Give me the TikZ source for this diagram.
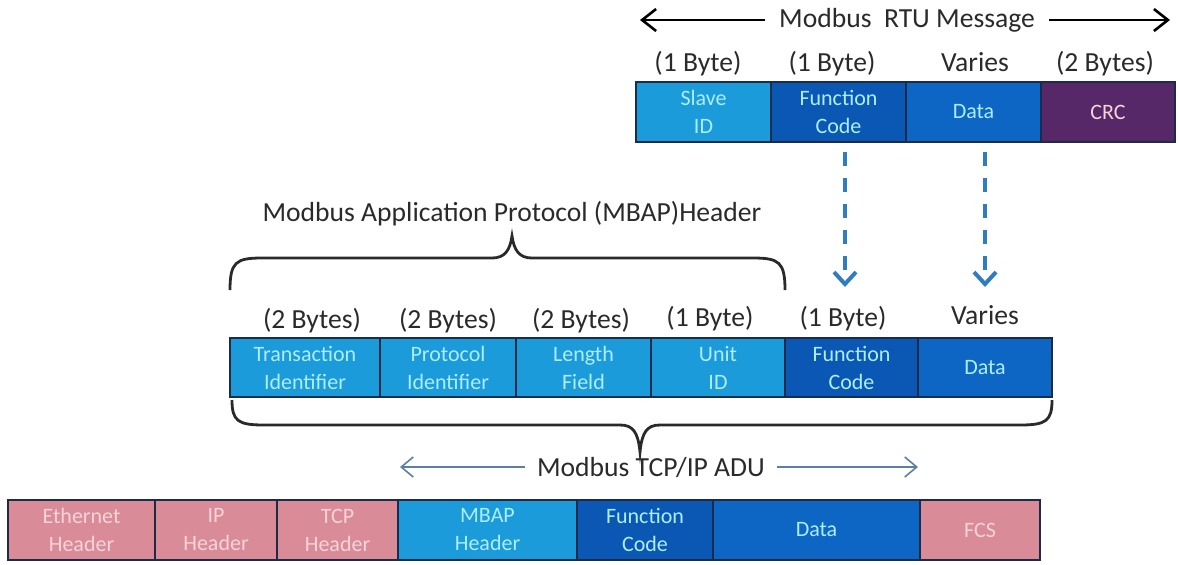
\documentclass[tikz,border=0pt]{standalone}
\usepackage{fontspec}
\setmainfont{Carlito}
\usetikzlibrary{arrows.meta}
\definecolor{lblue}{HTML}{1B9BDA}
\definecolor{mblue}{HTML}{0A58B4}
\definecolor{dblue}{HTML}{0E66C4}
\definecolor{purp}{HTML}{562868}
\definecolor{pinkc}{HTML}{D98C98}
\definecolor{pinktxt}{HTML}{F6D3D9}
\definecolor{cyantxt}{HTML}{ADEEFC}
\definecolor{bord}{HTML}{1C2B4A}
\definecolor{labc}{HTML}{2A2A2A}
\definecolor{dashc}{HTML}{2F7CC0}
\definecolor{adu}{HTML}{5C7FA8}
\newcommand\cell[7]{\node[cellbox,#6,minimum width=#3*0.5pt-#2*0.5pt,minimum height=#5*0.5pt-#4*0.5pt] (#1) at ({(#2+#3)/2},{(#4+#5)/2}) {#7};}
\begin{document}
\begin{tikzpicture}[x=0.5pt,y=-0.5pt,
  cellbox/.style={draw=bord,line width=1pt,inner sep=0pt,outer sep=0pt,align=center,
    font=\fontsize{11}{14}\selectfont},
  lb/.style={fill=lblue,text=cyantxt},
  mb/.style={fill=mblue,text=cyantxt},
  db/.style={fill=dblue,text=cyantxt},
  pu/.style={fill=purp,text=pinktxt},
  pk/.style={fill=pinkc,text=pinktxt},
  lab/.style={text=labc,font=\fontsize{13.8}{16}\selectfont,inner sep=0pt},
  bigarrow/.style={line width=1.3pt,-{Straight Barb[length=7pt,width=11pt]}},
  dasharrow/.style={dashc,line width=2pt,dash pattern=on 7pt off 6pt,-{Straight Barb[length=6pt,width=11pt]}},
  aduarrow/.style={adu,line width=0.8pt,-{Straight Barb[length=6pt,width=10pt]}},
  bracec/.style={line width=1.4pt,labc}]
\useasboundingbox (0,0) rectangle (1178,564);
% top row
\node[lab] (rtu) at (907,20) {Modbus\ \ RTU Message};
\coordinate (rtuL) at (640,20);
\coordinate (rtuR) at (1170,20);
\draw[bigarrow] (rtu.west) ++(-14,0) -- (rtuL);
\draw[bigarrow] (rtu.east) ++(14,0) -- (rtuR);
\node[lab] (t1) at (698,64) {(1 Byte)};
\node[lab] (t2) at (832,64) {(1 Byte)};
\node[lab] (t3) at (975,62) {Varies};
\node[lab] (t4) at (1105,64) {(2 Bytes)};
\cell{slave}{636}{771}{82}{142}{lb}{Slave\\ID}
\cell{fc1}{771}{906}{82}{142}{mb}{Function\\Code}
\cell{data1}{906}{1041}{82}{142}{db}{Data}
\cell{crc}{1041}{1175}{82}{142}{pu}{CRC}
% MBAP brace
\node[lab] (mbap) at (512,214) {Modbus Application Protocol (MBAP)Header};
\coordinate (b1a) at (230,290);
\coordinate (b1b) at (785,290);
\coordinate (b1t) at (512,236);
\draw[bracec] (b1a) .. controls (230,262) and (236,258) .. (262,258) -- (492,258)
  .. controls (505,258) and (510,250) .. (b1t)
  .. controls (514,250) and (519,258) .. (532,258) -- (753,258)
  .. controls (779,258) and (785,262) .. (b1b);
% middle row
\node[lab] (m1) at (312,321) {(2 Bytes)};
\node[lab] (m2) at (448,321) {(2 Bytes)};
\node[lab] (m3) at (581,321) {(2 Bytes)};
\node[lab] (m4) at (710,319) {(1 Byte)};
\node[lab] (m5) at (843,319) {(1 Byte)};
\node[lab] (m6) at (985,315) {Varies};
\cell{trans}{230}{380}{338}{397}{lb}{Transaction\\Identifier}
\cell{proto}{380}{516}{338}{397}{lb}{Protocol\\Identifier}
\cell{len}{516}{651}{338}{397}{lb}{Length\\Field}
\cell{unit}{651}{785}{338}{397}{lb}{Unit\\ID}
\cell{fc2}{785}{918}{338}{397}{mb}{Function\\Code}
\cell{data2}{918}{1052}{338}{397}{db}{Data}
% dashed arrows
\coordinate (d1s) at (845,152);
\coordinate (d1e) at (845,287);
\coordinate (d2s) at (985,152);
\coordinate (d2e) at (985,287);
\draw[dasharrow] (d1s) -- (d1e);
\draw[dasharrow] (d2s) -- (d2e);
% bottom brace
\coordinate (b2a) at (232,400);
\coordinate (b2b) at (1052,400);
\coordinate (b2t) at (640,452);
\draw[bracec] (b2a) .. controls (232,421) and (238,425) .. (264,425) -- (620,425)
  .. controls (633,425) and (638,432) .. (b2t)
  .. controls (642,432) and (647,425) .. (660,425) -- (1020,425)
  .. controls (1046,425) and (1052,421) .. (b2b);
% ADU label
\node[lab] (adul) at (651,467) {Modbus TCP/IP ADU};
\coordinate (aduL) at (400,467);
\coordinate (aduR) at (918,467);
\draw[aduarrow] (adul.west) ++(-12,0) -- (aduL);
\draw[aduarrow] (adul.east) ++(12,0) -- (aduR);
% bottom row
\cell{eth}{8}{155}{500}{560}{pk}{Ethernet\\Header}
\cell{ip}{155}{277}{500}{560}{pk}{IP\\Header}
\cell{tcp}{277}{398}{500}{560}{pk}{TCP\\Header}
\cell{mbaph}{398}{577}{500}{560}{lb}{MBAP\\Header}
\cell{fc3}{577}{713}{500}{560}{mb}{Function\\Code}
\cell{data3}{713}{920}{500}{560}{db}{Data}
\cell{fcs}{920}{1040}{500}{560}{pk}{FCS}
\end{tikzpicture}
\end{document}
